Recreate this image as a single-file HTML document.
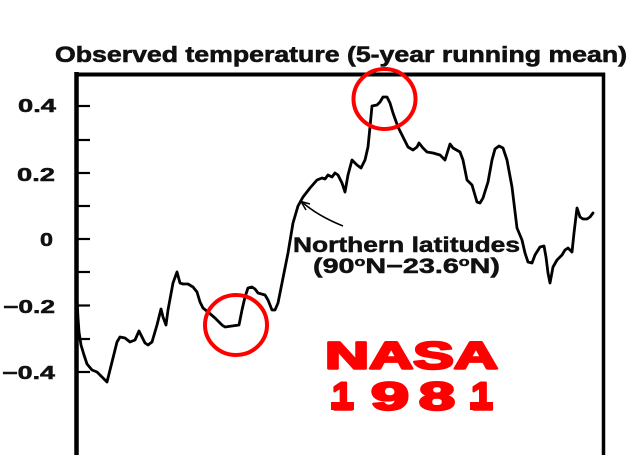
<!DOCTYPE html>
<html>
<head>
<meta charset="utf-8">
<style>
  html, body { margin: 0; padding: 0; background: #ffffff; }
  svg { display: block; }
  text { font-family: "Liberation Sans", sans-serif; font-weight: bold; }
</style>
</head>
<body>
<svg width="640" height="455" viewBox="0 0 640 455" xmlns="http://www.w3.org/2000/svg">
  <rect x="0" y="0" width="640" height="455" fill="#ffffff"/>

  <!-- Title -->
  <text x="55" y="62" font-size="22" fill="#111" stroke="#111" stroke-width="0.6" textLength="572" lengthAdjust="spacingAndGlyphs">Observed temperature (5-year running mean)</text>

  <!-- Frame -->
  <line x1="76.5" y1="72" x2="76.5" y2="455" stroke="#000" stroke-width="4.5"/>
  <line x1="74.5" y1="74.5" x2="605" y2="74.5" stroke="#000" stroke-width="4"/>
  <line x1="603.5" y1="72.5" x2="603.5" y2="455" stroke="#000" stroke-width="3.5"/>

  <!-- Ticks -->
  <g stroke="#000" stroke-width="2.2">
    <line x1="78" y1="106" x2="90" y2="106"/>
    <line x1="78" y1="140" x2="90" y2="140"/>
    <line x1="78" y1="173" x2="90" y2="173"/>
    <line x1="78" y1="206" x2="90" y2="206"/>
    <line x1="78" y1="239" x2="90" y2="239"/>
    <line x1="78" y1="272" x2="90" y2="272"/>
    <line x1="78" y1="305.5" x2="90" y2="305.5"/>
    <line x1="78" y1="339" x2="90" y2="339"/>
    <line x1="78" y1="372" x2="90" y2="372"/>
  </g>

  <!-- Tick labels -->
  <g font-size="18" fill="#111" stroke="#111" stroke-width="0.5">
    <text x="18" y="112" textLength="38" lengthAdjust="spacingAndGlyphs">0.4</text>
    <text x="17" y="181" textLength="38" lengthAdjust="spacingAndGlyphs">0.2</text>
    <text x="40" y="246" textLength="13" lengthAdjust="spacingAndGlyphs">0</text>
    <text x="3" y="313" textLength="52" lengthAdjust="spacingAndGlyphs">−0.2</text>
    <text x="2" y="379" textLength="53" lengthAdjust="spacingAndGlyphs">−0.4</text>
  </g>

  <!-- Data curve -->
  <polyline fill="none" stroke="#000" stroke-width="2.8" stroke-linejoin="round" stroke-linecap="round"
    points="77,300 78,318 79,332 81,345 84,355 87,364 92,370 97,372 102,377 107,382 112,362 117,342 120,337 125,338 130,342 135,340 139,331 142,337 145,343 148,345 152,342 157,325 161,309 163,317 166,325 168,310 173,283 177,272 180,283 183,284 188,284 193,287 197,292 200,302 203,308 208,312 215,318 222,325 225,327 232,326 239,325 242,310 245,297 248,288 252,287 255,289 258,293 265,295 268,300 272,310 275,310 278,303 282,283 285,268 288,253 293,223 298,206 303,197 310,188 317,180 322,178 325,179 328,175 332,177 335,173 338,175 342,183 345,192 348,175 352,160 357,165 361,168 365,160 368,147 370,127 372,106 377,105 380,102 383,97 387,97 390,103 393,113 398,127 403,137 408,147 413,150 417,147 419,143 423,148 427,152 433,153 440,155 445,160 450,144 453,148 460,152 463,160 467,180 472,185 477,202 480,203 483,198 488,182 492,160 495,149 499,146 503,148 507,160 512,187 517,228 522,240 525,253 528,262 532,263 535,255 540,247 544,246 546,257 548,273 550,283 553,267 557,260 562,255 565,250 568,248 572,252 574,233 577,208 580,217 583,219 587,219 590,217 593,213"/>

  <!-- Annotation arrow -->
  <path d="M343,226 Q318,216 302,202" fill="none" stroke="#000" stroke-width="1.5"/>
  <path d="M310,204 L301,201.5 L306,210" fill="none" stroke="#000" stroke-width="1.5"/>

  <!-- Annotation text -->
  <text x="293" y="252" font-size="21" fill="#111" stroke="#111" stroke-width="0.5" textLength="227" lengthAdjust="spacingAndGlyphs">Northern latitudes</text>
  <text x="313" y="273" font-size="21" fill="#111" stroke="#111" stroke-width="0.5" textLength="187" lengthAdjust="spacingAndGlyphs">(90<tspan font-size="13" dy="-7">o</tspan><tspan dy="7">N−23.6</tspan><tspan font-size="13" dy="-7">o</tspan><tspan dy="7">N)</tspan></text>

  <!-- Red circles -->
  <ellipse cx="384.5" cy="99" rx="31" ry="30" fill="none" stroke="#ff0000" stroke-width="4"/>
  <ellipse cx="236" cy="325" rx="31" ry="30" fill="none" stroke="#ff0000" stroke-width="4"/>

  <!-- NASA 1981 -->
  <g fill="#ff0000" stroke="#ff0000" stroke-width="2.4" stroke-linejoin="round">
    <text x="325" y="368.5" font-size="38" textLength="173" lengthAdjust="spacingAndGlyphs">NASA</text>
    <text x="332" y="409.5" font-size="39" textLength="21" lengthAdjust="spacingAndGlyphs">1</text>
    <text x="371" y="409.5" font-size="39" textLength="38" lengthAdjust="spacingAndGlyphs">9</text>
    <text x="419" y="409.5" font-size="39" textLength="36" lengthAdjust="spacingAndGlyphs">8</text>
    <text x="471" y="409.5" font-size="39" textLength="22" lengthAdjust="spacingAndGlyphs">1</text>
  </g>
  <rect x="331" y="402" width="23" height="8" fill="#ff0000"/>
  <rect x="470" y="402" width="23" height="8" fill="#ff0000"/>
</svg>
</body>
</html>
